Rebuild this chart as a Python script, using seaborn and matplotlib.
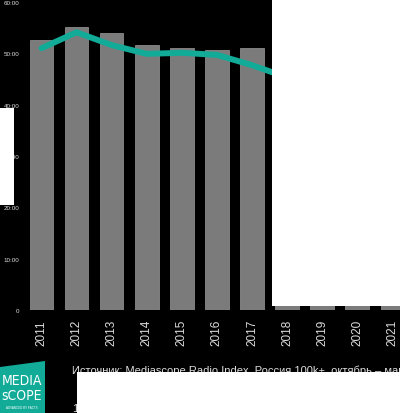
import numpy as np
import pandas as pd
import matplotlib
matplotlib.use("Agg")
import matplotlib.pyplot as plt
from matplotlib.patches import Rectangle, Polygon
import seaborn as sns

years = ["2011", "2012", "2013", "2014", "2015", "2016", "2017", "2018", "2019", "2020", "2021"]
bar_values = [52.6, 55.1, 54.0, 51.6, 51.0, 50.6, 51.1, 46.0, 44.5, 45.0, 43.5]
trend_values = [51.0, 54.1, 51.6, 49.9, 50.1, 49.7, 47.7, 45.3, 44.2, 43.6, 43.0]
ytick_values = [0, 10, 20, 30, 40, 50, 60]
ytick_labels = ["0", "10:00", "20:00", "30:00", "40:00", "50:00", "60:00"]
source_text = "Источник: Mediascope Radio Index, Россия 100k+, октябрь – март"

sns.set_style("dark")
plt.rcParams["font.family"] = ["Liberation Sans", "DejaVu Sans"]

W, H = 400, 414
fig = plt.figure(figsize=(W / 100, H / 100), dpi=100, facecolor="black")
ax = fig.add_axes([24 / W, 103 / H, (W - 24) / W, 308 / H])
ax.set_facecolor("black")

df = pd.DataFrame({"year": years, "value": bar_values, "trend": trend_values})
sns.barplot(data=df, x="year", y="value", color="#7b7b7b", saturation=1,
            width=0.67, edgecolor="#8a8a8a", linewidth=0.6, ax=ax)
df["pos"] = np.arange(len(years))
sns.lineplot(data=df, x="pos", y="trend", color="#12ab98", linewidth=4.3,
             ax=ax, solid_capstyle="round", solid_joinstyle="round")

ax.set_xlim(-0.5, 10.22)
ax.set_ylim(0, 60)
ax.set_yticks(ytick_values)
ax.set_yticklabels(ytick_labels, fontsize=4.5, color="#dddddd")
ax.set_xticks(range(len(years)))
ax.set_xticklabels(years, rotation=90, fontsize=8.5, color="#dddddd")
ax.tick_params(axis="y", length=0, pad=3.5)
ax.tick_params(axis="x", length=0, pad=6.5)
ax.set_xlabel("")
ax.set_ylabel("")
ax.grid(False)
for s in ax.spines.values():
    s.set_visible(False)

def px_rect(x0, y0, x1, y1, color):
    fig.patches.append(Rectangle((x0 / W, 1 - y1 / H), (x1 - x0) / W, (y1 - y0) / H,
                                 transform=fig.transFigure, facecolor=color,
                                 edgecolor="none", zorder=10))

# logo
fig.patches.append(Polygon([(0, 1 - 368 / H), (45 / W, 1 - 362 / H), (45 / W, 0), (0, 0)],
                           closed=True, transform=fig.transFigure,
                           facecolor="#12ab98", edgecolor="none", zorder=5))
fig.text(22 / W, 1 - 381 / H, "MEDIA", color="white", fontsize=10, ha="center", va="center",
         family="DejaVu Sans", stretch="condensed", zorder=12)
fig.text(22 / W, 1 - 396 / H, "sCOPE", color="white", fontsize=10, ha="center", va="center",
         family="DejaVu Sans", stretch="condensed", zorder=12)
fig.text(22 / W, 1 - 408 / H, "ADVANCED BY FACTS", color="white", fontsize=2.2,
         ha="center", va="center", zorder=12)

fig.text(72 / W, 1 - 371 / H, source_text, color="#dddddd", fontsize=8, ha="left", va="center")
fig.text(72 / W, 1 - 409 / H, "1", color="#dddddd", fontsize=8, ha="left", va="center")

# white occluding blocks seen in the reference
px_rect(272, 0, 400, 307, "white")
px_rect(0, 109, 14, 206, "white")
px_rect(77, 373, 400, 414, "white")

fig.savefig("out.png", dpi=100, facecolor="black")
